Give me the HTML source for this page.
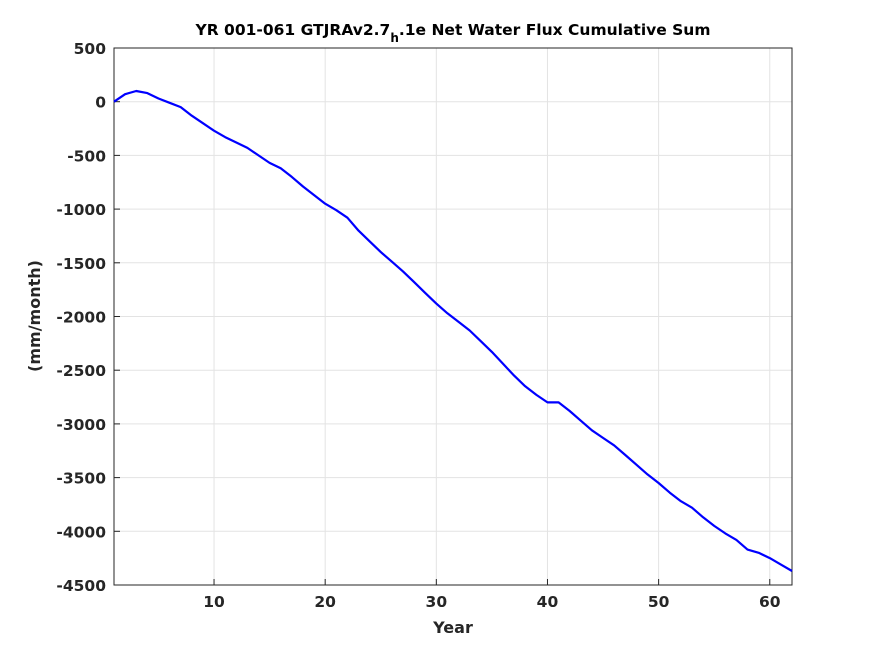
<!DOCTYPE html>
<html><head><meta charset="utf-8"><style>
body{margin:0;background:#fff;}
svg{display:block;font-family:"DejaVu Sans","Liberation Sans",sans-serif;font-weight:bold;}
</style></head><body>
<svg id="chart" width="875" height="656" viewBox="0 0 875 656">
<rect x="0" y="0" width="875" height="656" fill="#fff"/>
<rect x="114" y="48" width="678" height="537" fill="#fff" stroke="none"/>
<g id="grid"></g>
<g id="ticks"></g>
<rect x="114" y="48" width="678" height="537" fill="none" stroke="#262626" stroke-width="1"/>
<g id="series"></g>
<text x="453" y="35" text-anchor="middle" font-size="15.5" fill="#000">YR 001-061 GTJRAv2.7<tspan font-size="12" dy="7">h</tspan><tspan dy="-7">.1e Net Water Flux Cumulative Sum</tspan></text>
<text x="453" y="633" text-anchor="middle" font-size="16" fill="#262626">Year</text>
<text transform="translate(40,316) rotate(-90)" text-anchor="middle" font-size="16" fill="#262626">(mm/month)</text>
</svg>
<script>
const years=[1,2,3,4,5,6,7,8,9,10,11,12,13,14,15,16,17,18,19,20,21,22,23,24,25,26,27,28,29,30,31,32,33,34,35,36,37,38,39,40,41,42,43,44,45,46,47,48,49,50,51,52,53,54,55,56,57,58,59,60,61,62];
const values=[0,70,100,80,30,-10,-50,-130,-200,-270,-330,-380,-430,-500,-570,-620,-700,-790,-870,-950,-1010,-1080,-1200,-1300,-1400,-1490,-1580,-1680,-1780,-1880,-1970,-2050,-2130,-2230,-2330,-2440,-2550,-2650,-2730,-2800,-2800,-2880,-2970,-3060,-3130,-3200,-3290,-3380,-3470,-3550,-3640,-3720,-3780,-3870,-3950,-4020,-4080,-4170,-4200,-4250,-4310,-4370];
const xTicks=[10,20,30,40,50,60];
const yTicks=[500,0,-500,-1000,-1500,-2000,-2500,-3000,-3500,-4000,-4500];
const X0=114,X1=792,Y0=48,Y1=585,xmin=1,xmax=62,ymin=-4500,ymax=500;
function sx(v){return X0+(v-xmin)/(xmax-xmin)*(X1-X0);}
function sy(v){return Y0+(ymax-v)/(ymax-ymin)*(Y1-Y0);}
const NS="http://www.w3.org/2000/svg";
const grid=document.getElementById('grid'),ticks=document.getElementById('ticks'),series=document.getElementById('series');
function mk(t,a,p){const e=document.createElementNS(NS,t);for(const k in a)e.setAttribute(k,a[k]);p.appendChild(e);return e;}
xTicks.forEach(v=>{const x=sx(v);
 const g=mk('line',{x1:x,x2:x,y1:Y0,y2:Y1,stroke:'#e3e3e3','stroke-width':1},grid);
 
 
 const t=mk('line',{x1:x,x2:x,y1:Y1,y2:Y1-6,stroke:'#262626'},ticks);
 
 
 const l=mk('text',{x:x,y:Y1+22,'text-anchor':'middle','font-size':15.5,fill:'#262626'},ticks);
 l.textContent=v;
 
 
});
yTicks.forEach(v=>{const y=sy(v);
 const g=mk('line',{x1:X0,x2:X1,y1:y,y2:y,stroke:'#e3e3e3','stroke-width':1},grid);
 
 
 const t=mk('line',{x1:X0,x2:X0+6,y1:y,y2:y,stroke:'#262626'},ticks);
 
 
 const l=mk('text',{x:X0-8,y:y+6,'text-anchor':'end','font-size':15.5,fill:'#262626'},ticks);
 l.textContent=v;
 
 
});
const pts=years.map((yr,i)=>sx(yr).toFixed(1)+','+sy(values[i]).toFixed(1)).join(' ');
const line=mk('polyline',{points:pts,fill:'none',stroke:'#0000ff','stroke-width':2.2,'stroke-linejoin':'round'},series);


</script>
</body></html>
